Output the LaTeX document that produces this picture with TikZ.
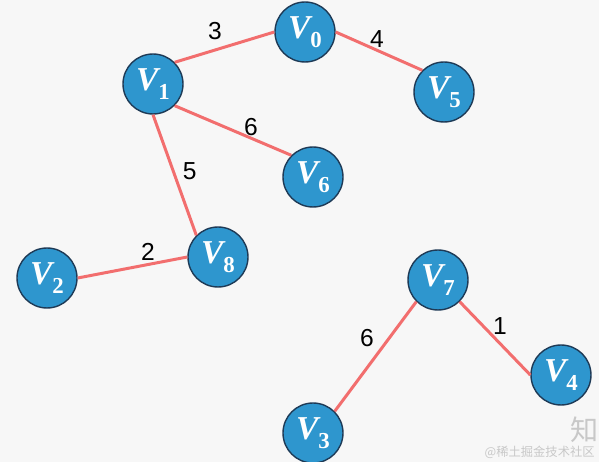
\documentclass[tikz,border=0pt]{standalone}
\usepackage{fontspec}
\setmainfont{Liberation Sans}
\newfontfamily\vfont{Liberation Serif}
\newfontfamily\cjkfont{Noto Sans CJK SC}
\definecolor{vblue}{HTML}{2E96CE}
\definecolor{vborder}{HTML}{1E3A56}
\definecolor{edgered}{HTML}{F26E6E}
\definecolor{bggray}{HTML}{F7F7F7}
\definecolor{wmgray}{HTML}{C8C8C8}
\newcommand{\vlabel}[1]{{\itshape V}\raisebox{-0.28em}{\fontsize{13}{14}\selectfont #1}}
\tikzset{
  vertex/.style={circle, draw=vborder, line width=0.8pt, fill=vblue,
    text=white, minimum size=1.2cm, inner sep=0pt,
    font=\vfont\bfseries\fontsize{19}{21}\selectfont},
  edge/.style={line width=1.7pt, edgered},
  weight/.style={midway, font=\fontsize{14}{16}\selectfont, text=black},
  wmtext/.style={text=wmgray, inner sep=0pt, font=\cjkfont\fontsize{7}{8}\selectfont},
}

\begin{document}
\begin{tikzpicture}[x=0.02cm, y=-0.02cm]

% ---------------- BACKGROUND ----------------
\fill[bggray] (0,0) rectangle (599,462);
\useasboundingbox (0,0) rectangle (599,462);

% ---------------- VERTICES ----------------
\node[vertex] (n-v0) at (305,32)  {\vlabel{0}};
\node[vertex] (n-v1) at (153,84)  {\vlabel{1}};
\node[vertex] (n-v5) at (444,92)  {\vlabel{5}};
\node[vertex] (n-v6) at (313,177) {\vlabel{6}};
\node[vertex] (n-v8) at (218,257) {\vlabel{8}};
\node[vertex] (n-v2) at (47,278)  {\vlabel{2}};
\node[vertex] (n-v7) at (438,280) {\vlabel{7}};
\node[vertex] (n-v4) at (561,375) {\vlabel{4}};
\node[vertex] (n-v3) at (313,433) {\vlabel{3}};

% ---------------- EDGES ----------------
\draw[edge] (n-v1.north east) -- (n-v0.west)
  node[weight, xshift=-0.19cm, yshift=0.33cm] {3};
\draw[edge] (n-v0.east) -- (n-v5.north west)
  node[weight, xshift=-0.04cm, yshift=0.25cm] {4};
\draw[edge] (n-v1.south east) -- (n-v6.north west)
  node[weight, xshift=0.36cm, yshift=0.07cm] {6};
\draw[edge] (n-v1.south) -- (n-v8.north west)
  node[weight, xshift=0.3cm, yshift=0.08cm] {5};
\draw[edge] (n-v2.east) -- (n-v8.west)
  node[weight, xshift=0.31cm, yshift=0.31cm] {2};
\draw[edge] (n-v7.south west) -- (n-v3.north east)
  node[weight, xshift=-0.17cm, yshift=0.37cm] {6};
\draw[edge] (n-v7.south east) -- (n-v4.west)
  node[weight, xshift=0.1cm, yshift=0.24cm] {1};

% ---------------- WATERMARK ----------------
\node[wmtext, font=\cjkfont\fontsize{16}{18}\selectfont] (n-wm-zhi) at (585,430) {知};
\node[wmtext, anchor=east] (n-wm) at (595,452) {@稀土掘金技术社区};

\end{tikzpicture}
\end{document}
